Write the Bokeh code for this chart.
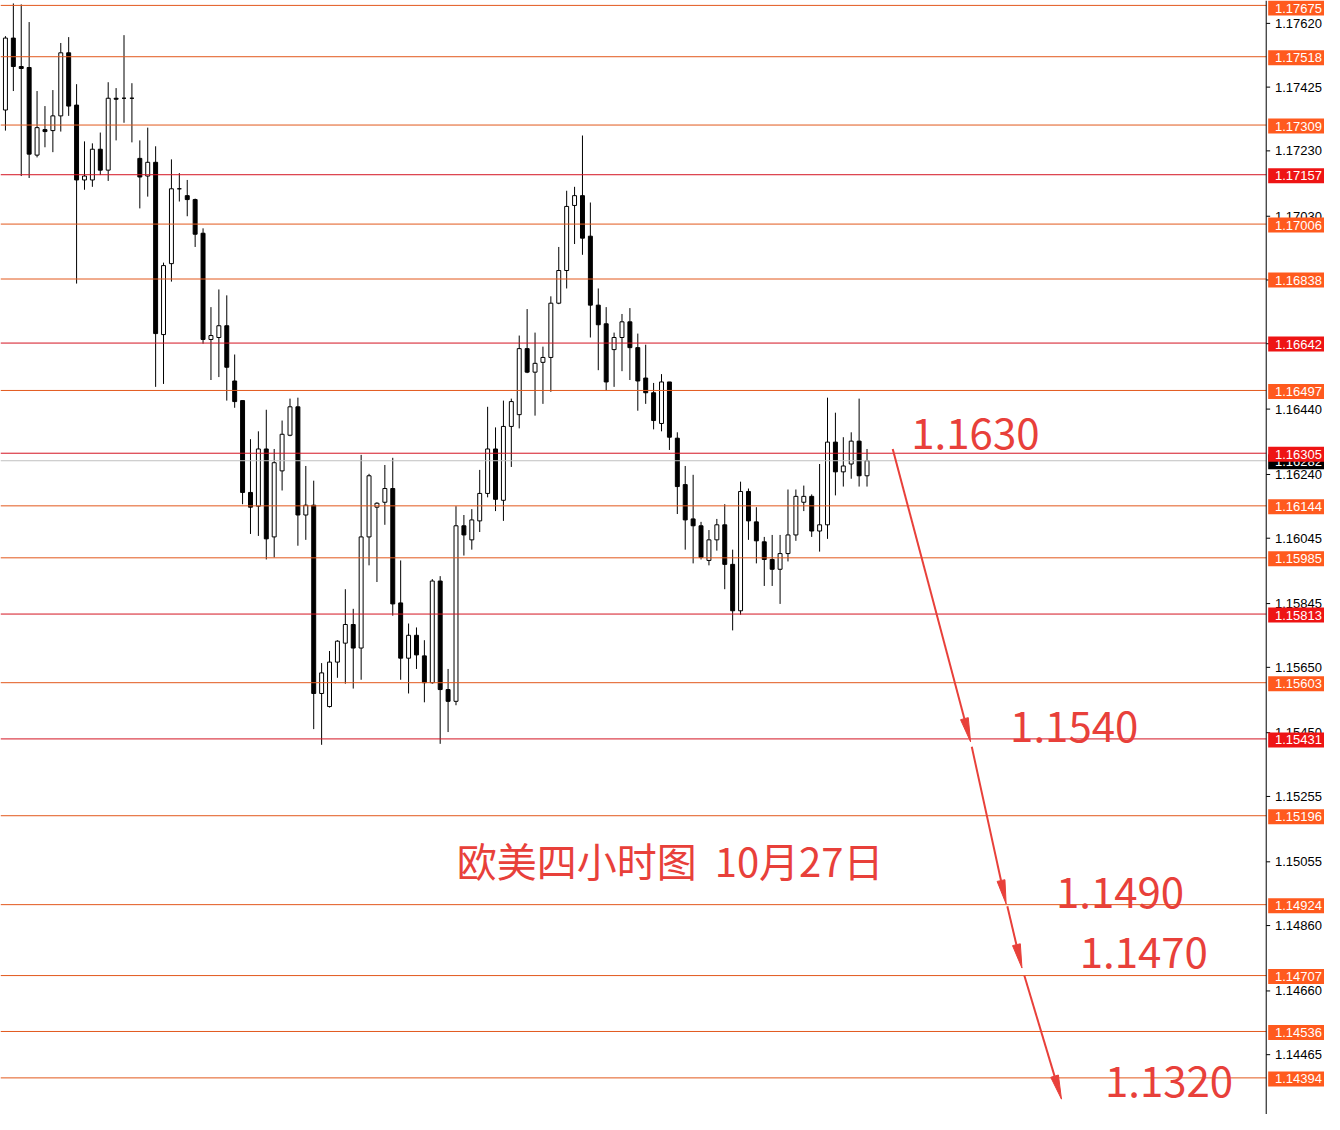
import math
from bokeh.plotting import figure
from bokeh.models import Range1d
from bokeh.embed import file_html
from bokeh.resources import INLINE
from bokeh.core.properties import value

# ---- EURUSD H4 candles ----
opens = [1.17355, 1.17575, 1.17488, 1.17485, 1.17217, 1.17295, 1.17292, 1.17337, 1.17530, 1.17370,
         1.17141, 1.17141, 1.17235, 1.17171, 1.17391, 1.17391, 1.17391, 1.17207, 1.17153, 1.17195,
         1.16668, 1.16885, 1.17114, 1.17093, 1.17081, 1.16978, 1.16653, 1.16659, 1.16695, 1.16526,
         1.16466, 1.16185, 1.16143, 1.16318, 1.16049, 1.16251, 1.16360, 1.16447, 1.16116, 1.16146,
         1.15570, 1.15530, 1.15666, 1.15724, 1.15781, 1.15709, 1.16049, 1.16140, 1.16155, 1.16197,
         1.15847, 1.15678, 1.15748, 1.15685, 1.15603, 1.15914, 1.15582, 1.15546, 1.16083, 1.16040,
         1.16098, 1.16182, 1.16318, 1.16161, 1.16387, 1.16423, 1.16625, 1.16553, 1.16583, 1.16598,
         1.16764, 1.16864, 1.17063, 1.17093, 1.16969, 1.16758, 1.16701, 1.16622, 1.16659, 1.16707,
         1.16628, 1.16535, 1.16490, 1.16396, 1.16523, 1.16351, 1.16209, 1.16104, 1.16083, 1.15977,
         1.16040, 1.16086, 1.15965, 1.15823, 1.16188, 1.16095, 1.16034, 1.15980, 1.15950, 1.15998,
         1.16055, 1.16155, 1.16173, 1.16067, 1.16086, 1.16339, 1.16248, 1.16272, 1.16342, 1.16236]
highs = [1.17581, 1.17681, 1.17678, 1.17624, 1.17413, 1.17367, 1.17416, 1.17560, 1.17578, 1.17434,
         1.17259, 1.17253, 1.17286, 1.17440, 1.17422, 1.17584, 1.17437, 1.17262, 1.17301, 1.17244,
         1.16888, 1.17204, 1.17162, 1.17141, 1.17084, 1.16993, 1.16752, 1.16806, 1.16788, 1.16607,
         1.16466, 1.16348, 1.16372, 1.16438, 1.16318, 1.16405, 1.16472, 1.16475, 1.16266, 1.16221,
         1.15663, 1.15700, 1.15733, 1.15889, 1.15829, 1.16300, 1.16242, 1.16155, 1.16269, 1.16291,
         1.15977, 1.15784, 1.15772, 1.15733, 1.15920, 1.15929, 1.15645, 1.16143, 1.16116, 1.16134,
         1.16254, 1.16447, 1.16384, 1.16466, 1.16472, 1.16665, 1.16746, 1.16674, 1.16631, 1.16785,
         1.16936, 1.17108, 1.17120, 1.17277, 1.17072, 1.16809, 1.16752, 1.16674, 1.16731, 1.16749,
         1.16671, 1.16637, 1.16520, 1.16547, 1.16523, 1.16369, 1.16266, 1.16239, 1.16095, 1.16070,
         1.16104, 1.16149, 1.16010, 1.16218, 1.16197, 1.16140, 1.16049, 1.16055, 1.16055, 1.16194,
         1.16194, 1.16206, 1.16179, 1.16272, 1.16475, 1.16429, 1.16354, 1.16369, 1.16472, 1.16318]
lows = [1.17292, 1.17413, 1.17153, 1.17147, 1.17210, 1.17241, 1.17226, 1.17289, 1.17337, 1.16824,
        1.17111, 1.17120, 1.17156, 1.17138, 1.17262, 1.17316, 1.17256, 1.17054, 1.17090, 1.16508,
        1.16517, 1.16830, 1.17075, 1.17030, 1.16936, 1.16640, 1.16529, 1.16538, 1.16466, 1.16444,
        1.16149, 1.16058, 1.16052, 1.15980, 1.15986, 1.16191, 1.16357, 1.16022, 1.16040, 1.15461,
        1.15413, 1.15527, 1.15618, 1.15600, 1.15585, 1.15612, 1.15962, 1.15911, 1.16086, 1.15808,
        1.15612, 1.15570, 1.15645, 1.15543, 1.15600, 1.15416, 1.15452, 1.15534, 1.15992, 1.16010,
        1.16064, 1.16170, 1.16128, 1.16098, 1.16263, 1.16381, 1.16550, 1.16420, 1.16456, 1.16493,
        1.16761, 1.16809, 1.16945, 1.16912, 1.16659, 1.16559, 1.16496, 1.16508, 1.16556, 1.16529,
        1.16435, 1.16456, 1.16378, 1.16372, 1.16315, 1.16119, 1.16010, 1.15968, 1.15980, 1.15962,
        1.16007, 1.15889, 1.15763, 1.15811, 1.16040, 1.15968, 1.15899, 1.15899, 1.15844, 1.15974,
        1.16037, 1.16128, 1.16049, 1.16004, 1.16043, 1.16176, 1.16203, 1.16227, 1.16203, 1.16203]
closes = [1.17575, 1.17488, 1.17482, 1.17220, 1.17301, 1.17289, 1.17337, 1.17530, 1.17367, 1.17141,
          1.17153, 1.17235, 1.17171, 1.17391, 1.17388, 1.17391, 1.17391, 1.17150, 1.17195, 1.16671,
          1.16879, 1.17114, 1.17114, 1.17081, 1.16975, 1.16653, 1.16665, 1.16695, 1.16568, 1.16463,
          1.16185, 1.16140, 1.16318, 1.16043, 1.16276, 1.16363, 1.16447, 1.16116, 1.16146, 1.15570,
          1.15633, 1.15666, 1.15730, 1.15781, 1.15709, 1.16049, 1.16236, 1.16152, 1.16197, 1.15844,
          1.15678, 1.15748, 1.15688, 1.15603, 1.15914, 1.15582, 1.15546, 1.16083, 1.16055, 1.16101,
          1.16182, 1.16318, 1.16164, 1.16387, 1.16463, 1.16625, 1.16553, 1.16580, 1.16598, 1.16764,
          1.16864, 1.17060, 1.17093, 1.16963, 1.16758, 1.16698, 1.16523, 1.16659, 1.16707, 1.16628,
          1.16526, 1.16490, 1.16405, 1.16523, 1.16354, 1.16203, 1.16101, 1.16083, 1.15986, 1.16040,
          1.16086, 1.15965, 1.15823, 1.16188, 1.16098, 1.16037, 1.15980, 1.15950, 1.15998, 1.16055,
          1.16173, 1.16173, 1.16067, 1.16086, 1.16339, 1.16248, 1.16266, 1.16342, 1.16236, 1.16282]

# ---- horizontal levels & price scale ----
levels_orange = [1.17675, 1.17518, 1.17309, 1.17006, 1.16838, 1.16497, 1.16144, 1.15985,
                 1.15603, 1.15196, 1.14924, 1.14707, 1.14536, 1.14394]
levels_red = [1.17157, 1.16642, 1.16305, 1.15813, 1.15431]
last_price = 1.16282
axis_ticks = [1.17620, 1.17425, 1.17230, 1.17030, 1.16835, 1.16640, 1.16440, 1.16240,
              1.16045, 1.15845, 1.15650, 1.15450, 1.15255, 1.15055, 1.14860, 1.14660, 1.14465]

# ---- forecast annotations ----
target_texts = ["1.1630", "1.1540", "1.1490", "1.1470", "1.1320"]
title_text = "欧美四小时图\u00a0\u00a010月27日"

ORANGE_LINE = "#E2581C"
RED_LINE = "#D41422"
ORANGE_BOX = "#FF5A1E"
RED_BOX = "#EE1414"
ANNO = "#E8403A"

W, H = 1324, 1114
X0, X1 = -0.625, 166.875
Y0, Y1 = 1.14282, 1.17690
AXIS_X = 159.5          # position of the price-scale line (in bar units)
kx = W / (X1 - X0)
ky = H / (Y1 - Y0)

p = figure(width=W, height=H, output_backend="svg", toolbar_location=None,
           x_range=Range1d(X0, X1), y_range=Range1d(Y0, Y1),
           x_axis_location=None, y_axis_location=None, min_border=0)
p.grid.visible = False
p.outline_line_color = None
p.background_fill_color = "white"
p.border_fill_color = "white"

idx = list(range(len(opens)))
bull = [i for i in idx if closes[i] >= opens[i]]
bear = [i for i in idx if closes[i] < opens[i]]

p.segment(x0=idx, y0=highs, x1=idx, y1=lows, line_color="black", line_width=1)
p.vbar(x=bull, width=0.5, top=[closes[i] for i in bull], bottom=[opens[i] for i in bull],
       fill_color="white", line_color="black", line_width=1)
p.vbar(x=bear, width=0.5, top=[opens[i] for i in bear], bottom=[closes[i] for i in bear],
       fill_color="black", line_color="black", line_width=1)

# level lines
p.segment(x0=[X0] * len(levels_orange), x1=[AXIS_X] * len(levels_orange),
          y0=levels_orange, y1=levels_orange, line_color=ORANGE_LINE, line_width=1)
p.segment(x0=[X0] * len(levels_red), x1=[AXIS_X] * len(levels_red),
          y0=levels_red, y1=levels_red, line_color=RED_LINE, line_width=1)
p.segment(x0=[X0], x1=[AXIS_X], y0=[last_price], y1=[last_price], line_color="#C0C0C0", line_width=1)

# price scale (right side)
p.segment(x0=[AXIS_X], x1=[AXIS_X], y0=[Y0], y1=[Y1], line_color="black", line_width=1)
p.segment(x0=[AXIS_X] * len(axis_ticks), x1=[AXIS_X + 0.5] * len(axis_ticks),
          y0=axis_ticks, y1=axis_ticks, line_color="black", line_width=1)
p.text(x=[AXIS_X + 1.1] * len(axis_ticks), y=axis_ticks, text=["%.5f" % t for t in axis_ticks],
       text_font=value("Liberation Sans"), text_font_size="13px", text_color="black",
       text_baseline="middle", text_align="left")

def price_boxes(vals, color):
    # keep a box fully inside the canvas (the scale clamps labels at its top)
    ys = [min(v - 1.0 / ky, Y1 - 7.5 / ky) for v in vals]
    xc = (AXIS_X + 0.25 + X1) / 2
    p.rect(x=[xc] * len(vals), y=ys, width=X1 - AXIS_X - 0.25, height=15,
           height_units="screen", fill_color=color, line_color=None)
    p.text(x=[AXIS_X + 1.1] * len(vals), y=ys, text=["%.5f" % v for v in vals],
           text_font=value("Liberation Sans"), text_font_size="13px", text_color="white",
           text_baseline="middle", text_align="left")

price_boxes([last_price], "black")
price_boxes(levels_orange, ORANGE_BOX)
price_boxes(levels_red, RED_BOX)

# forecast arrows
arrow_pts = [((112.25, 1.16318), (122.1, 1.15422)),
             ((122.25, 1.15407), (126.6, 1.14926)),
             ((126.75, 1.14919), (128.6, 1.14730)),
             ((128.9, 1.14707), (133.6, 1.14329))]
HEAD_L, HEAD_W = 24.0, 8.0
sx0, sy0, sx1, sy1, hx, hy = [], [], [], [], [], []
for (xs, ys), (xe, ye) in arrow_pts:
    dx, dy = (xe - xs) * kx, (ye - ys) * ky
    ln = math.hypot(dx, dy)
    ux, uy = dx / ln, dy / ln
    nx, ny = -uy, ux
    bx, by = xe - HEAD_L * ux / kx, ye - HEAD_L * uy / ky
    sx0.append(xs); sy0.append(ys); sx1.append(bx); sy1.append(by)
    hx.append([xe, bx + HEAD_W / 2 * nx / kx, bx - HEAD_W / 2 * nx / kx])
    hy.append([ye, by + HEAD_W / 2 * ny / ky, by - HEAD_W / 2 * ny / ky])
p.segment(x0=sx0, y0=sy0, x1=sx1, y1=sy1, line_color=ANNO, line_width=2)
p.patches(xs=hx, ys=hy, fill_color=ANNO, line_color=ANNO, line_width=1)

text_pos = [(114.6, 1.16366), (127.1, 1.15470), (132.9, 1.14961), (135.9, 1.14777), (139.1, 1.14382)]
p.text(x=[t[0] for t in text_pos], y=[t[1] for t in text_pos], text=target_texts,
       text_color=ANNO, text_font=value("Noto Sans CJK SC"), text_font_size="42px",
       text_baseline="middle", text_align="left")
p.text(x=[57.1], y=[1.15060], text=[title_text], text_color=ANNO,
       text_font=value("Noto Sans CJK SC"), text_font_size="40px",
       text_baseline="middle", text_align="left")

open("out.html", "w").write(file_html(p, INLINE))
